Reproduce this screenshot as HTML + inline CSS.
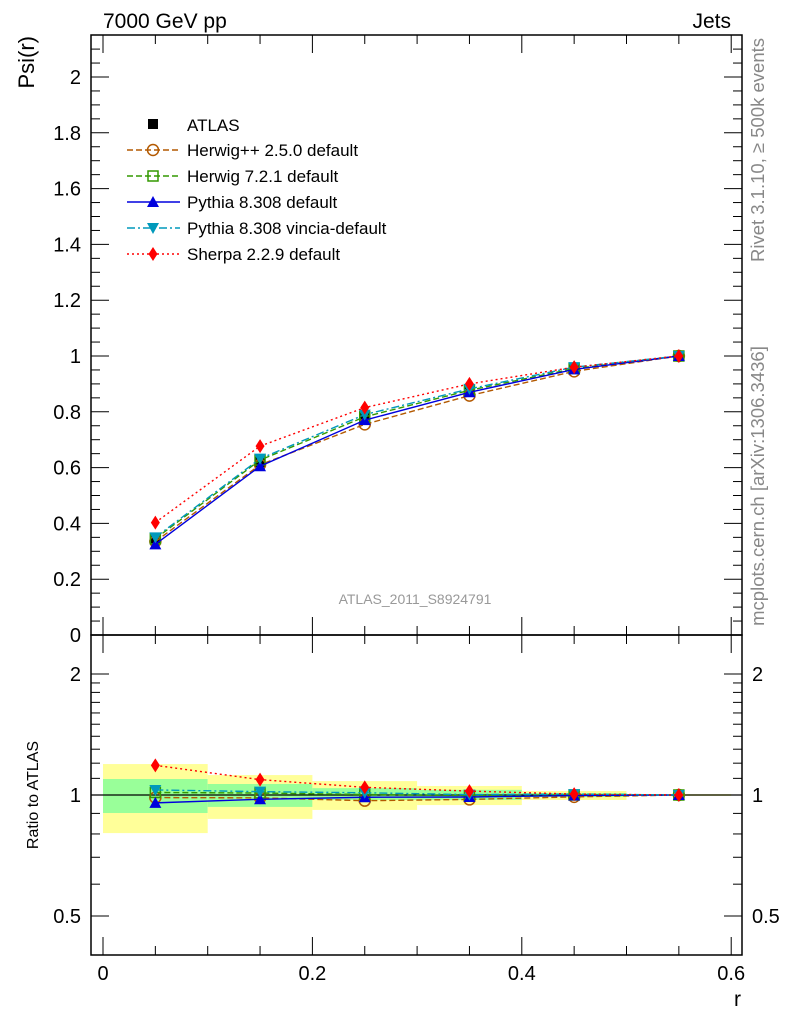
<!DOCTYPE html>
<html><head><meta charset="utf-8"><style>
body{margin:0;background:#fff;}
svg{display:block;font-family:"Liberation Sans",sans-serif;}
</style></head><body>
<svg id="c" width="786" height="1024"></svg>
<script>
const xCenters=[0.05,0.15,0.25,0.35,0.45,0.55];
const binEdges=[0,0.1,0.2,0.3,0.4,0.5,0.6];
const atlas=[0.34,0.62,0.78,0.88,0.955,1.0];
const herwigpp=[0.335,0.61,0.755,0.858,0.945,1.0];
const herwig7=[0.345,0.627,0.782,0.877,0.955,1.0];
const pythia=[0.325,0.605,0.77,0.87,0.952,1.0];
const vincia=[0.35,0.632,0.79,0.882,0.96,1.0];
const sherpa=[0.403,0.677,0.815,0.9,0.96,1.0];
const bandYellowHi=[1.194,1.121,1.083,1.053,1.023,1.005];
const bandYellowLo=[0.804,0.872,0.918,0.944,0.972,0.995];
const bandGreenHi=[1.096,1.065,1.04,1.03,1.011,1.003];
const bandGreenLo=[0.902,0.934,0.972,0.972,0.989,0.997];
const yTicks=[0,0.2,0.4,0.6,0.8,1,1.2,1.4,1.6,1.8,2];
const xTicks=[0,0.2,0.4,0.6];
const rTicks=[0.5,1,2];

const svg=document.getElementById('c');
const NS='http://www.w3.org/2000/svg';
function el(t,a,p){const e=document.createElementNS(NS,t);for(const k in a)e.setAttribute(k,a[k]);(p||svg).appendChild(e);return e;}
const L=91,R=742,T=35,B=635,RB=955;
const X=v=>103+v*1047;
const Y=v=>635-v*279;
const RY=v=>795-Math.log2(v)*121;

for(let i=0;i<6;i++){
  const r=el('rect',{x:X(binEdges[i]),y:RY(bandYellowHi[i]),width:X(binEdges[i+1])-X(binEdges[i]),height:RY(bandYellowLo[i])-RY(bandYellowHi[i]),fill:'#ffff99'});
  
  
  const g=el('rect',{x:X(binEdges[i]),y:RY(bandGreenHi[i]),width:X(binEdges[i+1])-X(binEdges[i]),height:RY(bandGreenLo[i])-RY(bandGreenHi[i]),fill:'#99ff99'});
  
  
}
el('line',{x1:L,x2:R,y1:RY(1),y2:RY(1),stroke:'#000','stroke-width':1.2});

const f1=el('rect',{x:L,y:T,width:R-L,height:B-T,fill:'none',stroke:'#000','stroke-width':1.5});

const f2=el('rect',{x:L,y:B,width:R-L,height:RB-B,fill:'none',stroke:'#000','stroke-width':1.5});


for(let v=0;v<=2.15;v+=0.05){const y=Y(v);if(y<T)break;const maj=Math.abs(v/0.2-Math.round(v/0.2))<1e-6;const l=maj?18:9;
el('line',{x1:L,x2:L+l,y1:y,y2:y,stroke:'#000'});el('line',{x1:R,x2:R-l,y1:y,y2:y,stroke:'#000'});}
yTicks.forEach(v=>{const t=el('text',{x:81,y:Y(v)+7,'text-anchor':'end','font-size':20});t.textContent=String(v);
});
for(let v=0;v<=0.6001;v+=0.05){const x=X(v);const maj=Math.abs(v/0.2-Math.round(v/0.2))<1e-6;const l=maj?18:9;
el('line',{x1:x,x2:x,y1:T,y2:T+l,stroke:'#000'});el('line',{x1:x,x2:x,y1:B,y2:B-l,stroke:'#000'});
el('line',{x1:x,x2:x,y1:B,y2:B+l,stroke:'#000'});el('line',{x1:x,x2:x,y1:RB,y2:RB-l,stroke:'#000'});}
xTicks.forEach(v=>{const t=el('text',{x:X(v),y:980,'text-anchor':'middle','font-size':20});t.textContent=String(v);
});
[0.5,0.6,0.7,0.8,0.9,1,1.1,1.2,1.3,1.4,1.5,1.6,1.7,1.8,1.9,2].forEach(v=>{const y=RY(v);const maj=rTicks.includes(v);const l=maj?18:9;
el('line',{x1:L,x2:L+l,y1:y,y2:y,stroke:'#000'});el('line',{x1:R,x2:R-l,y1:y,y2:y,stroke:'#000'});});
rTicks.forEach(v=>{[[81,'end'],[752,'start']].forEach(([x,a])=>{const t=el('text',{x:x,y:RY(v)+7,'text-anchor':a,'font-size':20});t.textContent=String(v);
});});

function marker(type,x,y,c,g){
  if(type==='sq') el('rect',{x:x-5,y:y-5,width:10,height:10,fill:c},g);
  else if(type==='osq') el('rect',{x:x-5,y:y-5,width:10,height:10,fill:'none',stroke:c,'stroke-width':1.5},g);
  else if(type==='oc') el('circle',{cx:x,cy:y,r:5.5,fill:'none',stroke:c,'stroke-width':1.5},g);
  else if(type==='tri') el('polygon',{points:`${x-6},${y+5} ${x+6},${y+5} ${x},${y-6}`,fill:c},g);
  else if(type==='itri') el('polygon',{points:`${x-6},${y-5} ${x+6},${y-5} ${x},${y+6}`,fill:c},g);
  else if(type==='dia') el('polygon',{points:`${x},${y-7} ${x+4.5},${y} ${x},${y+7} ${x-4.5},${y}`,fill:c},g);
}
const series=[
 {n:'herwigpp',d:herwigpp,c:'#b35900',dash:'6,3',m:'oc',lab:'Herwig++ 2.5.0 default'},
 {n:'herwig7',d:herwig7,c:'#339900',dash:'6,3',m:'osq',lab:'Herwig 7.2.1 default'},
 {n:'pythia',d:pythia,c:'#0000dd',dash:'',m:'tri',lab:'Pythia 8.308 default'},
 {n:'vincia',d:vincia,c:'#0099bb',dash:'8,3,2,3',m:'itri',lab:'Pythia 8.308 vincia-default'},
 {n:'sherpa',d:sherpa,c:'#ff0000',dash:'2,3',m:'dia',lab:'Sherpa 2.2.9 default'},
];
const ga=el('g',{});
atlas.forEach((v,i)=>marker('sq',X(xCenters[i]),Y(v),'#000',ga));
series.forEach(s=>{
  const g=el('g',{});
  el('polyline',{points:s.d.map((v,i)=>X(xCenters[i])+','+Y(v)).join(' '),fill:'none',stroke:s.c,'stroke-width':1.4,'stroke-dasharray':s.dash},g);
  s.d.forEach((v,i)=>marker(s.m,X(xCenters[i]),Y(v),s.c,g));
  const gr=el('g',{});
  el('polyline',{points:s.d.map((v,i)=>X(xCenters[i])+','+RY(v/atlas[i])).join(' '),fill:'none',stroke:s.c,'stroke-width':1.4,'stroke-dasharray':s.dash},gr);
  s.d.forEach((v,i)=>marker(s.m,X(xCenters[i]),RY(v/atlas[i]),s.c,gr));
});

const lg=el('g',{});
marker('sq',153,124,'#000',lg);
let t=el('text',{x:187,y:131,'font-size':17},lg);t.textContent='ATLAS';
series.forEach((s,i)=>{const y=150+i*26;
 el('line',{x1:127,x2:180,y1:y,y2:y,stroke:s.c,'stroke-width':1.4,'stroke-dasharray':s.dash},lg);
 marker(s.m,153,y,s.c,lg);
 const tt=el('text',{x:187,y:y+6,'font-size':17},lg);tt.textContent=s.lab;
 });

function txt(x,y,s,a,extra,name){const e=el('text',Object.assign({x:x,y:y},a));e.textContent=s;return e;}
txt(103,28,'7000 GeV pp',{'font-size':21},null,'title-energy');
txt(731,28,'Jets',{'font-size':21,'text-anchor':'end'},null,'title-process');
txt(0,0,'Psi(r)',{'font-size':22,'text-anchor':'end',transform:'translate(34,36) rotate(-90)'},null,'y-axis-title');
txt(0,0,'Ratio to ATLAS',{'font-size':16,'text-anchor':'middle',transform:'translate(38,795) rotate(-90)'},null,'ratio-axis-title');
txt(741,1006,'r',{'font-size':21,'text-anchor':'end'},null,'x-axis-title');
txt(415,604,'ATLAS_2011_S8924791',{'font-size':14,fill:'#999','text-anchor':'middle'},null,'analysis-label');
txt(0,0,'Rivet 3.1.10, \u2265 500k events',{'font-size':18.5,fill:'#888','text-anchor':'middle',transform:'translate(764,150) rotate(-90)'},null,'rivet-label');
txt(0,0,'mcplots.cern.ch [arXiv:1306.3436]',{'font-size':18.5,fill:'#888','text-anchor':'middle',transform:'translate(764,486) rotate(-90)'},null,'mcplots-label');
</script>
</body></html>
